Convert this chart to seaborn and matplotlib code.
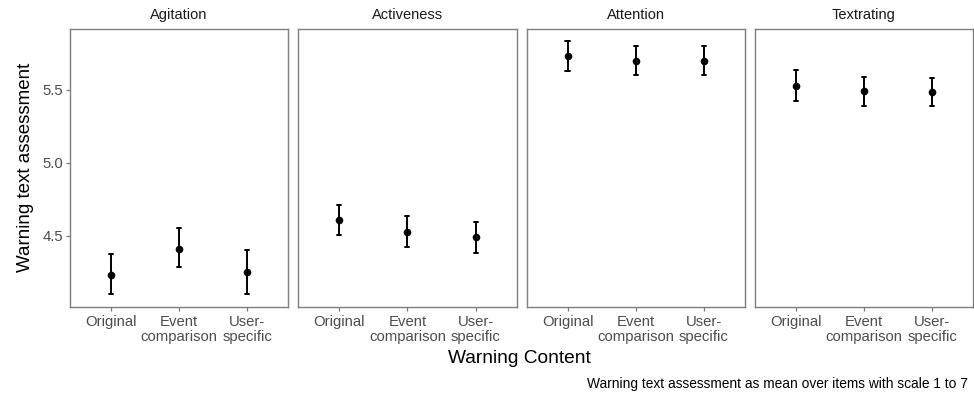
import numpy as np
import pandas as pd
import matplotlib
matplotlib.use("Agg")
import matplotlib.pyplot as plt
import seaborn as sns

facets = ["Agitation", "Activeness", "Attention", "Textrating"]
categories = ["Original", "Event\ncomparison", "User-\nspecific"]

mean_agitation = [4.235, 4.411, 4.255]
mean_activeness = [4.609, 4.527, 4.490]
mean_attention = [5.735, 5.699, 5.697]
mean_textrating = [5.529, 5.490, 5.483]

low_agitation = [4.100, 4.286, 4.102]
low_activeness = [4.504, 4.427, 4.384]
low_attention = [5.626, 5.599, 5.605]
low_textrating = [5.426, 5.388, 5.390]

high_agitation = [4.373, 4.552, 4.402]
high_activeness = [4.713, 4.634, 4.593]
high_attention = [5.832, 5.798, 5.800]
high_textrating = [5.638, 5.585, 5.580]

y_ticks = [4.5, 5.0, 5.5]
y_tick_labels = ["4.5", "5.0", "5.5"]

means = [mean_agitation, mean_activeness, mean_attention, mean_textrating]
lows = [low_agitation, low_activeness, low_attention, low_textrating]
highs = [high_agitation, high_activeness, high_attention, high_textrating]

rows = []
for f, m, lo, hi in zip(facets, means, lows, highs):
    for c, mv, lv, hv in zip(categories, m, lo, hi):
        for v in (lv, mv, hv):
            rows.append({"facet": f, "content": c, "value": v})
df = pd.DataFrame(rows)

sns.set_theme(style="white")
plt.rcParams["font.family"] = ["Liberation Sans", "DejaVu Sans"]

fig = plt.figure(figsize=(9.74, 3.93), dpi=100)
W, H = 974, 393
panel_w = 218.3
gap = 10.0
x0 = 70.0
top_px, bot_px = 28.7, 307.0

all_lo = min(min(l) for l in lows)
all_hi = max(max(h) for h in highs)
pad = 0.05 * (all_hi - all_lo)

tick_grey = "#4D4D4D"
border = "#7F7F7F"

for i, f in enumerate(facets):
    left = (x0 + i * (panel_w + gap)) / W
    ax = fig.add_axes([left, (H - bot_px) / H, panel_w / W, (bot_px - top_px) / H])
    sub = df[df["facet"] == f]
    sns.pointplot(data=sub, x="content", y="value", order=categories,
                  estimator="median", errorbar=("pi", 100), color="black",
                  markers="o", linestyle="none", capsize=0.06,
                  err_kws={"linewidth": 1.4}, markersize=5.5,
                  markeredgewidth=0, ax=ax)
    ax.set_xlim(-0.6, 2.6)
    ax.set_ylim(all_lo - pad, all_hi + pad)
    ax.set_xlabel("")
    ax.set_ylabel("")
    for s in ax.spines.values():
        s.set_color(border)
        s.set_linewidth(1.0)
    ax.tick_params(axis="x", length=3.0, width=0.9, color=border,
                   labelsize=10.7, labelcolor=tick_grey, pad=2.5, bottom=True)
    for lab in ax.get_xticklabels():
        lab.set_linespacing(1.1)
    if i == 0:
        ax.set_yticks(y_ticks)
        ax.set_yticklabels(y_tick_labels)
        ax.tick_params(axis="y", length=3.0, width=0.9, color=border,
                       labelsize=10.7, labelcolor=tick_grey, pad=2.0, left=True)
    else:
        ax.set_yticks(y_ticks)
        ax.tick_params(axis="y", left=False, labelleft=False)
    ax.set_title(f, fontsize=10.5, color="#1A1A1A", pad=7.1)
    ax.grid(False)

fig.text(25.7 / W, 1 - ((top_px + bot_px) / 2) / H, "Warning text assessment",
         rotation=90, ha="center", va="center", fontsize=13.5, color="black")
fig.text(519 / W, (H - 363) / H, "Warning Content", ha="center", va="baseline",
         fontsize=13.8, color="black")
fig.text(967.7 / W, (H - 387.8) / H,
         "Warning text assessment as mean over items with scale 1 to 7",
         ha="right", va="baseline", fontsize=9.9, color="black")

fig.savefig("out.png", dpi=100)
